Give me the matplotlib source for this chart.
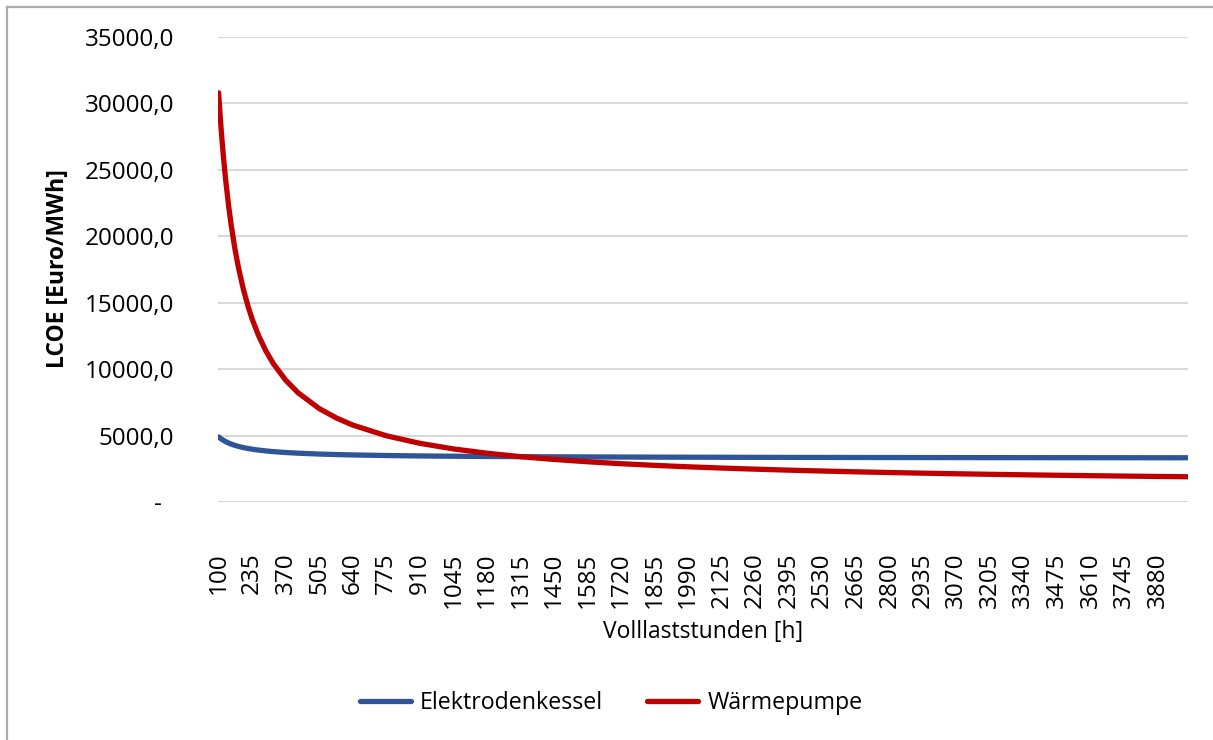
import matplotlib
matplotlib.use("Agg")
import matplotlib.pyplot as plt
from matplotlib.lines import Line2D

# ---- data ----
hours = [100, 105, 110, 115, 120, 125, 130, 140, 150, 165, 180, 200, 220, 235,
         260, 290, 320, 370, 420, 505, 575, 640, 775, 910, 1045, 1180, 1315, 1450,
         1585, 1720, 1855, 1990, 2125, 2260, 2395, 2530, 2665, 2800, 2935, 3070,
         3205, 3340, 3475, 3610, 3745, 3880, 4000]
elektrodenkessel = [4900, 4823, 4754, 4690, 4632, 4578, 4528, 4440, 4363, 4266,
                    4184, 4095, 4022, 3975, 3909, 3845, 3793, 3725, 3673, 3609,
                    3570, 3542, 3498, 3467, 3444, 3426, 3412, 3401, 3392, 3384,
                    3377, 3371, 3366, 3361, 3357, 3354, 3350, 3347, 3345, 3342,
                    3340, 3338, 3336, 3335, 3333, 3331, 3330]
waermepumpe = [30800, 29390, 28100, 26930, 25860, 24870, 23960, 22330, 20920,
               19120, 17630, 15980, 14630, 13770, 12560, 11380, 10420, 9170, 8220,
               7030, 6315, 5790, 4985, 4417, 3996, 3672, 3414, 3204, 3030, 2883,
               2758, 2649, 2555, 2472, 2398, 2332, 2272, 2219, 2170, 2125, 2085,
               2047, 2013, 1981, 1951, 1924, 1901]
x_tick_labels = [100, 235, 370, 505, 640, 775, 910, 1045, 1180, 1315, 1450, 1585,
                 1720, 1855, 1990, 2125, 2260, 2395, 2530, 2665, 2800, 2935, 3070,
                 3205, 3340, 3475, 3610, 3745, 3880]
y_ticks = [0, 5000, 10000, 15000, 20000, 25000, 30000, 35000]
series_names = ["Elektrodenkessel", "Wärmepumpe"]
colors = ["#2F5597", "#C00000"]

plt.rcParams['font.family'] = ['Open Sans', 'DejaVu Sans']

W, H = 1213, 740
fig = plt.figure(figsize=(W / 100, H / 100), dpi=100)
left, right, top, bottom = 218, 1188, 37, 502
ax = fig.add_axes([left / W, 1 - bottom / H, (right - left) / W, (bottom - top) / H])

ax.plot(hours, elektrodenkessel, color=colors[0], lw=3.8, solid_capstyle='round',
        solid_joinstyle='round', zorder=3)
ax.plot(hours, waermepumpe, color=colors[1], lw=3.8, solid_capstyle='round',
        solid_joinstyle='round', zorder=3)

ax.set_xlim(97.5, 4002.5)
ax.set_ylim(0, 35000)
ax.set_yticks(y_ticks)
ax.set_yticklabels(['-  '] + [f"{v},0" for v in y_ticks[1:]], fontsize=17.5, color='#000000')
ax.set_xticks(x_tick_labels)
ax.set_xticklabels([str(v) for v in x_tick_labels], rotation=90, fontsize=17.5)
ax.tick_params(length=0)
ax.tick_params(axis='x', pad=36.5)
ax.tick_params(axis='y', pad=31.5)
ax.grid(axis='y', color='#D9D9D9', lw=1.5)
ax.set_axisbelow(True)
for s in ax.spines.values():
    s.set_visible(False)

fig.text(703 / W, 1 - 632 / H, "Volllaststunden [h]", ha='center', va='center', fontsize=16.5)
fig.text(58 / W, 1 - 269 / H, "LCOE [Euro/MWh]", ha='center', va='center',
         rotation=90, fontsize=16.5, fontweight='bold')

handles = [Line2D([0], [0], color=c, lw=3.8, solid_capstyle='round') for c in colors]
fig.legend(handles, series_names, loc='center', bbox_to_anchor=(611 / W, 1 - 703 / H),
           ncol=2, frameon=False, fontsize=16.7, handlelength=2.2, columnspacing=1.9,
           handletextpad=0.4, borderpad=0, borderaxespad=0)

# outer chart border (left and top edges visible)
fig.add_artist(Line2D([7 / W, 7 / W], [0, 1 - 7 / H], color='#ABABAB', lw=1.6,
                      transform=fig.transFigure))
fig.add_artist(Line2D([7 / W, 1], [1 - 7 / H, 1 - 7 / H], color='#ABABAB', lw=1.6,
                      transform=fig.transFigure))

fig.savefig("out.png", dpi=100)
